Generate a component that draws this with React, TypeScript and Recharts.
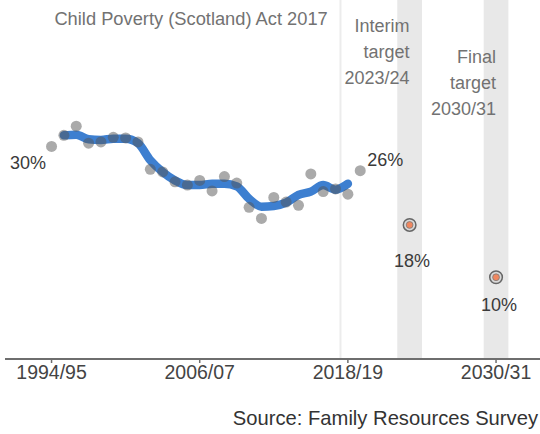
import React from 'react';
import { ComposedChart, Line, Scatter, XAxis, YAxis, ReferenceArea, ReferenceLine } from 'recharts';

// ---------- data ----------
const years = [1994, 1995, 1996, 1997, 1998, 1999, 2000, 2001, 2002, 2003, 2004, 2005, 2006, 2007, 2008, 2009, 2010, 2011, 2012, 2013, 2014, 2015, 2016, 2017, 2018, 2019];
const povertyRates = [30.0, 31.7, 33.1, 30.5, 30.7, 31.4, 31.3, 30.7, 26.5, 26.1, 24.6, 24.1, 24.8, 23.2, 25.4, 24.4, 20.7, 19.0, 22.2, 21.5, 21.0, 25.8, 23.1, 23.5, 22.7, 26.3];
const trendYears = [1995, 1996, 1997, 1998, 1999, 2000, 2001, 2002, 2003, 2004, 2005, 2006, 2007, 2008, 2009, 2010, 2011, 2012, 2013, 2014, 2015, 2016, 2017, 2018];
const trendRates = [31.7, 31.8, 31.1, 31.0, 31.2, 31.2, 30.5, 27.9, 26.1, 24.8, 24.1, 24.1, 24.3, 24.3, 23.9, 22.0, 20.8, 20.9, 21.4, 22.6, 23.1, 24.1, 23.4, 24.3];
const actYear = 2017.4;
const actTitle = 'Child Poverty (Scotland) Act 2017';
const targetYears = [2023, 2030];
const targetRates = [18, 10];
const targetNames = [
  ['Interim', 'target', '2023/24'],
  ['Final', 'target', '2030/31'],
];
const tickYears = [1994, 2006, 2018, 2030];
const tickLabels = ['1994/95', '2006/07', '2018/19', '2030/31'];
const sourceText = 'Source: Family Resources Survey';

// ---------- built tables ----------
const pointData = years.map((x, i) => ({ x, y: povertyRates[i] }));
const trendData = trendYears.map((x, i) => ({ x, y: trendRates[i] }));
const targetData = targetYears.map((x, i) => ({ x, y: targetRates[i], idx: i }));

// ---------- styles ----------
const FONT = '"Liberation Sans", Arial, Helvetica, sans-serif';
const GREY_TEXT = '#727272';
const DARK_TEXT = '#3a3a3a';
const BAND_HALF = 1;
const annotationFirstBaseline = [31.7, 63.3];
const annotationLineGap = 26;
const endLabelOffsets = { first: { dx: -23.5, dy: 23 }, last: { dx: 25, dy: -5 } };
const targetLabelOffsets = [{ dx: 2.5, dy: 42 }, { dx: 3, dy: 34 }];

const pct = (v: number) => `${Math.round(v)}%`;

const DataDot = (props: any) => {
  const { cx, cy, payload } = props;
  if (cx == null || cy == null) return null;
  const first = payload && payload.x === years[0];
  const last = payload && payload.x === years[years.length - 1];
  const off = first ? endLabelOffsets.first : last ? endLabelOffsets.last : null;
  return (
    <g>
      <circle cx={cx} cy={cy} r={5.5} fill="#555" fillOpacity={0.5} />
      {off && (
        <text x={cx + off.dx} y={cy + off.dy} textAnchor="middle" fontFamily={FONT} fontSize={18} fill={DARK_TEXT}>
          {pct(payload.y)}
        </text>
      )}
    </g>
  );
};

const TargetDot = (props: any) => {
  const { cx, cy, payload } = props;
  if (cx == null || cy == null) return null;
  const off = targetLabelOffsets[payload.idx] || { dx: 0, dy: 30 };
  return (
    <g>
      <circle cx={cx} cy={cy} r={6.3} fill="#d9d9d9" stroke="#666" strokeWidth={1.5} />
      <circle cx={cx} cy={cy} r={3.4} fill="#f0875f" stroke="#7a7a7a" strokeWidth={0.8} />
      <text x={cx + off.dx} y={cy + off.dy} textAnchor="middle" fontFamily={FONT} fontSize={18} fill={DARK_TEXT}>
        {pct(payload.y)}
      </text>
    </g>
  );
};

const BandLabel = (props: any) => {
  const { viewBox, lines, which } = props;
  if (!viewBox) return null;
  const xr = viewBox.x + viewBox.width / 2;
  return (
    <g>
      {lines.map((t: string, i: number) => (
        <text key={i} x={xr} y={annotationFirstBaseline[which] + i * annotationLineGap} textAnchor="end" fontFamily={FONT} fontSize={18} fill={GREY_TEXT}>
          {t}
        </text>
      ))}
    </g>
  );
};

const ActLabel = (props: any) => {
  const { viewBox } = props;
  if (!viewBox) return null;
  return (
    <text x={viewBox.x - 12.7} y={25} textAnchor="end" fontFamily={FONT} fontSize={18.3} fill={GREY_TEXT}>
      {actTitle}
    </text>
  );
};

export default function App() {
  return (
    <div style={{ position: 'absolute', left: 0, top: 0, width: 540, height: 434, background: '#fff' }}>
      <ComposedChart width={540} height={434} margin={{ top: 0, right: 0, left: 5, bottom: 0 }}>
        <XAxis
          type="number"
          dataKey="x"
          domain={[1990.23, 2033.56]}
          allowDataOverflow
          ticks={tickYears}
          tickFormatter={(v: number) => tickLabels[tickYears.indexOf(v)] ?? String(v)}
          height={75}
          tickSize={4}
          tickMargin={2.5}
          axisLine={{ stroke: '#6e6e6e', strokeWidth: 2 }}
          tickLine={{ stroke: '#6e6e6e', strokeWidth: 1.5 }}
          tick={{ fontFamily: FONT, fontSize: 19.5, fill: '#444' }}
          interval={0}
        />
        <YAxis type="number" dataKey="y" hide domain={[-2.5, 52.4]} allowDataOverflow />
        {targetYears.map((ty, i) => (
          <ReferenceArea
            key={ty}
            x1={ty - BAND_HALF}
            x2={ty + BAND_HALF}
            fill="#e8e8e8"
            fillOpacity={1}
            stroke="none"
            label={<BandLabel lines={targetNames[i]} which={i} />}
          />
        ))}
        <ReferenceLine x={actYear} stroke="#ececec" strokeWidth={2} label={<ActLabel />} />
        <Line
          data={trendData}
          dataKey="y"
          type="monotone"
          stroke="#3d7fd0"
          strokeWidth={8.5}
          strokeLinecap="round"
          dot={false}
          activeDot={false}
          isAnimationActive={false}
        />
        <Scatter data={pointData} shape={DataDot} isAnimationActive={false} />
        <Scatter data={targetData} shape={TargetDot} isAnimationActive={false} />
      </ComposedChart>
      <div
        style={{
          position: 'absolute',
          top: 408,
          right: 2,
          fontFamily: FONT,
          fontSize: 20.2,
          lineHeight: '20px',
          color: '#333',
          whiteSpace: 'nowrap',
        }}
      >
        {sourceText}
      </div>
    </div>
  );
}
